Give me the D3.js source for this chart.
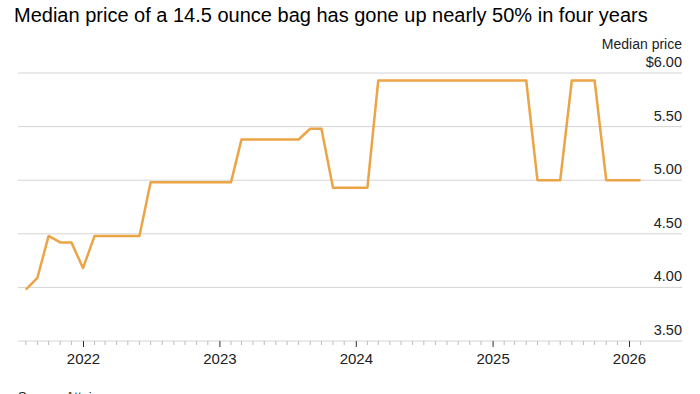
<!DOCTYPE html>
<html>
<head>
<meta charset="utf-8">
<script src="https://cdn.jsdelivr.net/npm/d3@7"></script>
<style>
  body { margin: 0; background: #fff; }
  svg { display: block; font-family: "Liberation Sans", Arial, sans-serif; }
</style>
</head>
<body>
<div id="chart"></div>
<script>
const width = 700;
const height = 394;

// monthly median price, first of each month
const months = [
  "2021-08", "2021-09", "2021-10", "2021-11", "2021-12",
  "2022-01", "2022-02", "2022-03", "2022-04", "2022-05", "2022-06",
  "2022-07", "2022-08", "2022-09", "2022-10", "2022-11", "2022-12",
  "2023-01", "2023-02", "2023-03", "2023-04", "2023-05", "2023-06",
  "2023-07", "2023-08", "2023-09", "2023-10", "2023-11", "2023-12",
  "2024-01", "2024-02", "2024-03", "2024-04", "2024-05", "2024-06",
  "2024-07", "2024-08", "2024-09", "2024-10", "2024-11", "2024-12",
  "2025-01", "2025-02", "2025-03", "2025-04", "2025-05", "2025-06",
  "2025-07", "2025-08", "2025-09", "2025-10", "2025-11", "2025-12",
  "2026-01", "2026-02"
];
const prices = [
  3.98, 4.09, 4.48, 4.42, 4.42,
  4.18, 4.48, 4.48, 4.48, 4.48, 4.48,
  4.98, 4.98, 4.98, 4.98, 4.98, 4.98,
  4.98, 4.98, 5.38, 5.38, 5.38, 5.38,
  5.38, 5.38, 5.48, 5.48, 4.93, 4.93,
  4.93, 4.93, 5.93, 5.93, 5.93, 5.93,
  5.93, 5.93, 5.93, 5.93, 5.93, 5.93,
  5.93, 5.93, 5.93, 5.93, 5.00, 5.00,
  5.00, 5.93, 5.93, 5.93, 5.00, 5.00,
  5.00, 5.00
];
const yTicks = [3.5, 4, 4.5, 5, 5.5, 6];
const yearTicks = ["2022", "2023", "2024", "2025", "2026"];

const parse = d3.timeParse("%Y-%m");
const data = months.map((m, i) => ({date: parse(m), value: prices[i]}));

const left = 18;
const right = 682;

const x = d3.scaleTime()
  .domain([new Date(2022, 0, 1), new Date(2026, 0, 1)])
  .range([83, 629]);

const y = d3.scaleLinear()
  .domain([3.5, 6])
  .range([341, 73]);

const svg = d3.select("#chart")
  .append("svg")
  .attr("width", width)
  .attr("height", height);

svg.append("text")
  .attr("x", 14)
  .attr("y", 22)
  .attr("font-size", "20px")
  .attr("fill", "#000")
  .text("Median price of a 14.5 ounce bag has gone up nearly 50% in four years");

// gridlines
svg.append("g")
  .selectAll("line")
  .data(yTicks)
  .join("line")
  .attr("x1", left)
  .attr("x2", right)
  .attr("y1", d => y(d))
  .attr("y2", d => y(d))
  .attr("stroke", "#d4d4d4")
  .attr("stroke-width", 1);

// y labels sit above their gridline
svg.append("g")
  .selectAll("text")
  .data(yTicks)
  .join("text")
  .attr("x", right)
  .attr("y", d => y(d) - 6)
  .attr("text-anchor", "end")
  .attr("font-size", "14.5px")
  .attr("fill", "#222")
  .text(d => (d === 6 ? "$" : "") + d3.format(".2f")(d));

svg.append("text")
  .attr("x", right)
  .attr("y", 49)
  .attr("text-anchor", "end")
  .attr("font-size", "14px")
  .attr("fill", "#222")
  .text("Median price");

// monthly minor ticks
const minor = d3.timeMonth.range(data[0].date, d3.timeMonth.offset(data[data.length - 1].date, 1));
svg.append("g")
  .selectAll("line")
  .data(minor.filter(d => d.getMonth() !== 0))
  .join("line")
  .attr("x1", d => x(d))
  .attr("x2", d => x(d))
  .attr("y1", 341)
  .attr("y2", 345)
  .attr("stroke", "#bbb");

// year axis
const xAxis = d3.axisBottom(x)
  .tickValues(yearTicks.map(d => new Date(+d, 0, 1)))
  .tickFormat(d3.timeFormat("%Y"))
  .tickSize(6)
  .tickPadding(6);

const gx = svg.append("g")
  .attr("transform", "translate(0,341)")
  .call(xAxis);
gx.select(".domain").remove();
gx.selectAll(".tick line").attr("stroke", "#333");
gx.selectAll(".tick text")
  .attr("font-size", "15px")
  .attr("font-family", "Liberation Sans, Arial, sans-serif")
  .attr("fill", "#222");

const line = d3.line()
  .x(d => x(d.date))
  .y(d => y(d.value));

svg.append("path")
  .datum(data)
  .attr("d", line)
  .attr("fill", "none")
  .attr("stroke", "#eba446")
  .attr("stroke-width", 2.5)
  .attr("stroke-linejoin", "round");

// source line sits at the bottom edge, mostly cut off as in the original
svg.append("text")
  .attr("x", 18)
  .attr("y", 401)
  .attr("font-size", "13px")
  .attr("fill", "#222")
  .text("Source: Attain");
</script>
</body>
</html>
